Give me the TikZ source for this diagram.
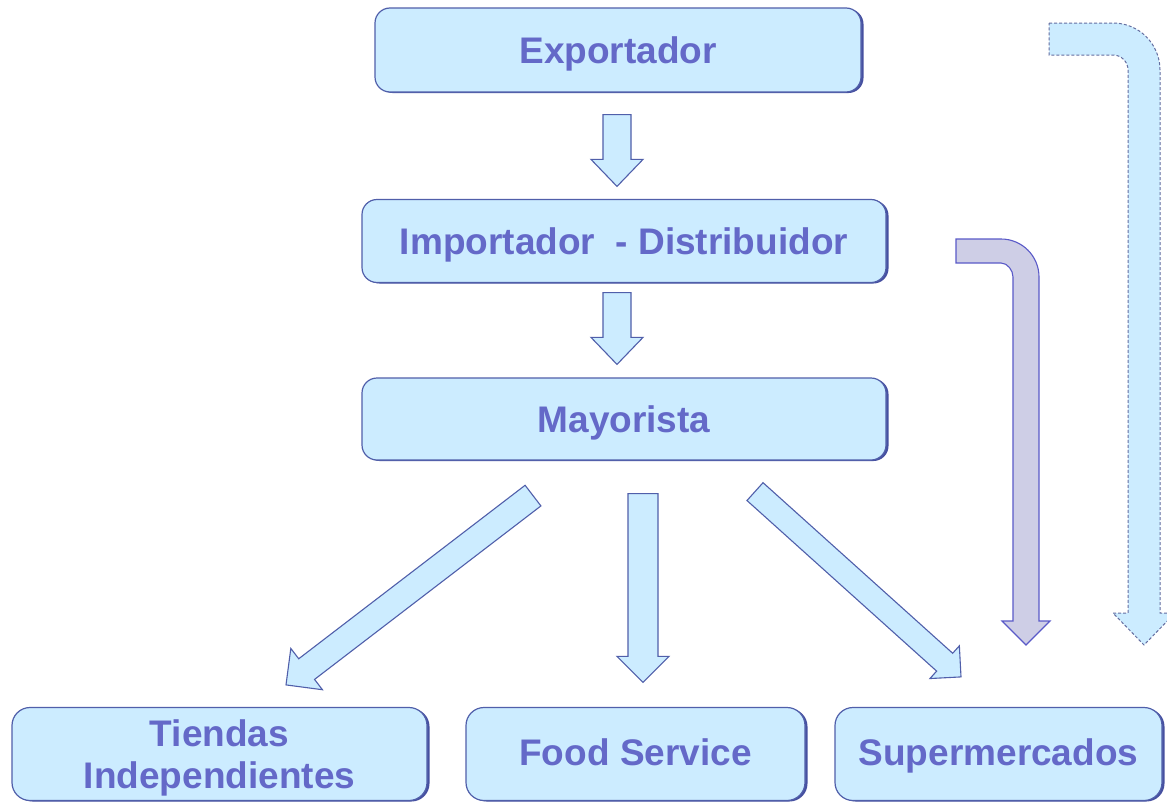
\documentclass[tikz,border=0pt]{standalone}
\usepackage{fontspec}
\setmainfont{Liberation Sans}
\usetikzlibrary{calc,shadows}
\definecolor{boxfill}{RGB}{204,236,255}
\definecolor{boxline}{RGB}{80,95,170}
\definecolor{boxshade}{RGB}{70,80,160}
\definecolor{txtcol}{RGB}{100,105,200}
\definecolor{grayfill}{RGB}{206,206,230}
\definecolor{grayline}{RGB}{90,90,200}
\definecolor{dashline}{RGB}{100,110,160}
\newcommand\blockarr[6]{%
  \coordinate (ba-h) at ($(#3)!#6!(#2)$);
  \path[#1] ($(#2)!#4!90:(#3)$) -- ($(ba-h)!#4!-90:(#2)$) -- ($(ba-h)!#5!-90:(#2)$) -- (#3)
    -- ($(ba-h)!#5!90:(#2)$) -- ($(ba-h)!#4!90:(#2)$) -- ($(#2)!#4!-90:(#3)$) -- cycle;}
\tikzset{
  stagebox/.style={draw=boxline, line width=1.2pt, fill=boxfill, rounded corners=15pt,
    text=txtcol, font=\fontsize{37}{42.5}\selectfont\bfseries, align=center,
    inner sep=0pt, drop shadow={shadow xshift=2.5pt, shadow yshift=-1pt, fill=boxshade, opacity=1}},
  oneline/.style={text height=26.5pt, text depth=0pt},
  lowline/.style={text height=22pt, text depth=0pt},
  flowarrow/.style={draw=boxline, line width=1.1pt, fill=boxfill, line join=miter},
  grayarrow/.style={draw=grayline, line width=1.1pt, fill=grayfill, line join=miter},
  dasharrow/.style={draw=dashline, line width=1pt, fill=boxfill, dash pattern=on 3pt off 2pt, line join=miter}
}
\begin{document}
\begin{tikzpicture}[x=1pt,y=-1pt]
\useasboundingbox[fill=white] (0,0) rectangle (1167,803);
% boxes
\node[stagebox, oneline, minimum width=486pt, minimum height=84pt] (exp) at (618,50) {Exportador};
\node[stagebox, oneline, minimum width=524pt, minimum height=83pt] (imp) at (624,241) {Importador \ - Distribuidor};
\node[stagebox, oneline, minimum width=524pt, minimum height=82pt] (may) at (624,419) {Mayorista};
\node[stagebox, text depth=0pt, rounded corners=18pt, minimum width=415pt, minimum height=93pt] (tie) at (219.5,754) {Tiendas\\Independientes};
\node[stagebox, lowline, rounded corners=18pt, minimum width=339pt, minimum height=93pt] (food) at (635.5,754) {Food Service};
\node[stagebox, lowline, rounded corners=18pt, minimum width=327pt, minimum height=93pt] (sup) at (998.5,754) {Supermercados};
% straight arrows
\coordinate (a1s) at ($(exp.south)+(-1,22)$);
\coordinate (a1t) at ($(imp.north)+(-7,-12.5)$);
\blockarr{flowarrow}{a1s}{a1t}{14pt}{26pt}{27pt}
\coordinate (a2s) at ($(imp.south)+(-7,9.5)$);
\coordinate (a2t) at ($(may.north)+(-7,-13)$);
\blockarr{flowarrow}{a2s}{a2t}{14pt}{26pt}{27pt}
\coordinate (a3s) at ($(may.south)+(19,33)$);
\coordinate (a3t) at ($(food.north)+(7.5,-24.5)$);
\blockarr{flowarrow}{a3s}{a3t}{15pt}{26pt}{26pt}
\coordinate (a4s) at ($(may.south)+(-91,35)$);
\coordinate (a4t) at ($(tie.north)+(66.5,-22)$);
\blockarr{flowarrow}{a4s}{a4t}{13pt}{26pt}{26pt}
\coordinate (a5s) at ($(may.south)+(131,31)$);
\coordinate (a5t) at ($(sup.north)+(-37.5,-30)$);
\blockarr{flowarrow}{a5s}{a5t}{12pt}{22pt}{22pt}
% bent arrow from Importador - Distribuidor to Supermercados
\path[grayarrow] (956,239) -- (1001,239) .. controls (1022,239) and (1039,256) .. (1039,277)
  -- (1039,621) -- (1050,621) -- (1026,645) -- (1002,621) -- (1013,621) -- (1013,277)
  .. controls (1013,270.4) and (1007.6,263) .. (1001,263) -- (956,263) -- cycle;
% bent dashed arrow from Exportador to Supermercados
\path[dasharrow] (1049,23) -- (1113,23) .. controls (1139,23) and (1160,44) .. (1160,70)
  -- (1160,613) -- (1175,613) -- (1144,645) -- (1113,613) -- (1128,613) -- (1128,70)
  .. controls (1128,61.7) and (1121.3,55) .. (1113,55) -- (1049,55) -- cycle;
\end{tikzpicture}
\end{document}
